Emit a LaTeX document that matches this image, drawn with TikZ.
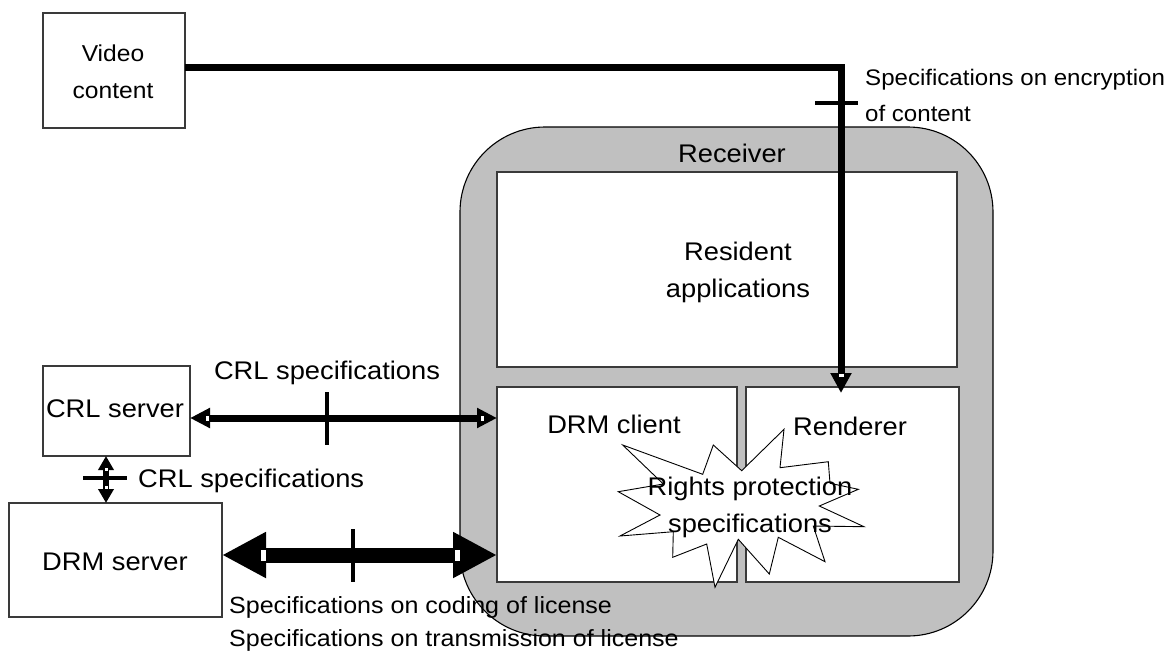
\documentclass[tikz,border=0pt]{standalone}
\usepackage{fontspec}
\setmainfont{Liberation Sans}
\usepackage{graphicx}
\usetikzlibrary{arrows.meta}
\definecolor{recgray}{HTML}{C0C0C0}
\definecolor{boxline}{HTML}{3A3A3A}
\newcommand{\stx}[1]{\scalebox{1.07}[1]{#1}}
\begin{document}
\begin{tikzpicture}[x=1pt,y=-1pt,
  box/.style={draw=boxline, line width=1.1pt, fill=white, inner sep=0pt, outer sep=0pt},
  big/.style={font=\fontsize{25.5}{37}\selectfont, align=center, inner sep=0pt},
  small/.style={font=\fontsize{22.5}{36}\selectfont, align=left, inner sep=0pt},
  conn/.style={line width=7pt},
  tickmark/.style={line width=4.5pt},
  gapmark/.style={fill=white, draw=none},
  burst/.style={draw=black, fill=white, line width=0.9pt, line join=miter}]
\useasboundingbox (0,0) rectangle (1173,654);

% Receiver and its parts
\node[draw=black, line width=1.1pt, fill=recgray, rounded corners=85pt,
      minimum width=533pt, minimum height=509pt, inner sep=0pt] (receiver) at (726.5,381.5) {};
\node[big] (rectxt) at (732,153) {\stx{Receiver}};
\node[box, minimum width=460pt, minimum height=195pt] (resident) at (727,269.5) {};
\node[box, minimum width=240pt, minimum height=195pt] (drmclient) at (617,484.5) {};
\node[box, minimum width=213pt, minimum height=195pt] (renderer) at (852.5,484.5) {};
\node[big] (restxt) at (738,272) {\stx{Resident}\\\stx{applications}};
\node[big] (clienttxt) at (614,424) {\stx{DRM client}};
\node[big] (rendtxt) at (850,426) {\stx{Renderer}};

% starburst
\draw[burst] (622.7,445) -- (702.7,474.3) -- (713.3,445) -- (741.7,470.7) -- (784,429.3)
  -- (780,467.7) -- (828.3,461.7) -- (830,483.3) -- (858.3,489.3) -- (819.3,506)
  -- (864,526.7) -- (813.3,526) -- (825,561.7) -- (778.3,537.3) -- (769.3,574)
  -- (738.3,539.3) -- (715,587.3) -- (706.7,544) -- (672.7,557.3) -- (673.3,531.7)
  -- (620,536) -- (660,515) -- (618.3,491.7) -- (663.3,484) -- cycle;
\node[big] (rightstxt) at (750,507) {\stx{Rights protection}\\\stx{specifications}};

% outside boxes
\node[box, minimum width=142pt, minimum height=115pt] (video) at (114,70.5) {};
\node[font=\fontsize{23}{37}\selectfont, align=center, inner sep=0pt] (videotxt) at (113,72) {\stx{Video}\\\stx{content}};
\node[box, minimum width=147pt, minimum height=90pt] (crl) at (116.5,411) {};
\node[big] (crltxt) at (115,409) {\stx{CRL server}};
\node[box, minimum width=213pt, minimum height=114pt] (drm) at (115.5,560) {};
\node[big] (drmtxt) at (115,562) {\stx{DRM server}};

% labels
\node[big] (crlspec1) at (327,373) {\stx{CRL specifications}};
\node[big, anchor=west] (crlspec2) at (138,481) {\stx{CRL specifications}};
\node[small, anchor=west] (enclabel) at (865,95) {\stx{Specifications on encryption}\\\stx{of content}};
\node[small, anchor=west, font=\fontsize{23.4}{33.5}\selectfont] (liclabel) at (229,624)
  {\stx{Specifications on coding of license}\\\stx{Specifications on transmission of license}};

% connectors
\coordinate (vcorner) at (841,67);
\coordinate (vtip) at (841,393);
\draw[conn, -{Triangle[length=20pt,width=20pt]}] (video.east |- vcorner) -- (vcorner) -- (vtip);

\coordinate (crly) at (0,418);
\draw[conn, {Triangle[length=20pt,width=19pt]}-{Triangle[length=20pt,width=19pt]}]
  (crl.east |- crly) -- (drmclient.west |- crly);

\coordinate (xv) at (106,0);
\draw[line width=5.5pt, {Triangle[length=14pt,width=15pt]}-{Triangle[length=14pt,width=15pt]}]
  (crl.south -| xv) -- (drm.north -| xv);

\coordinate (drmy) at (0,555);
\draw[line width=15pt, {Triangle[length=44pt,width=43pt]}-{Triangle[length=44pt,width=43pt]}]
  (drm.east |- drmy) -- (drmclient.west |- drmy);

% tick marks
\draw[tickmark] (815,103) -- (858,103);
\draw[tickmark] (327,392) -- (327,445);
\draw[tickmark] (83,478) -- (127,478);
\draw[tickmark] (353,529) -- (353,582);

% small white notches at the arrow heads
\fill[gapmark] (206,415.5) rectangle (209,420.5);
\fill[gapmark] (480.5,415.5) rectangle (483.5,420.5);
\fill[gapmark] (260.5,550) rectangle (265.5,561);
\fill[gapmark] (454.5,550) rectangle (459.5,561);
\fill[gapmark] (104.5,467.5) rectangle (107.5,470.5);
\fill[gapmark] (104.5,486) rectangle (107.5,489);
\fill[gapmark] (838.5,373.5) rectangle (843.5,376.5);
\end{tikzpicture}
\end{document}
